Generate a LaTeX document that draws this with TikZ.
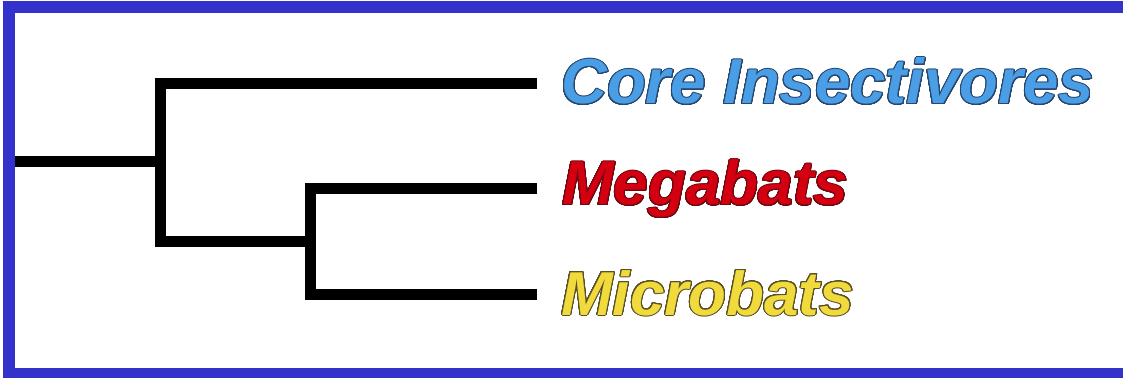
\documentclass[tikz,border=0pt]{standalone}
\usepackage{fontspec}
\setmainfont{Liberation Sans}
\usepackage{contour}
\contourlength{1.0pt}
\contournumber{32}

\definecolor{framebl}{RGB}{51,51,204}
\definecolor{corefill}{RGB}{74,158,230}
\definecolor{coreedge}{RGB}{40,70,110}
\definecolor{megafill}{RGB}{212,0,18}
\definecolor{megaedge}{RGB}{110,10,15}
\definecolor{microfill}{RGB}{240,218,60}
\definecolor{microedge}{RGB}{90,80,40}

\tikzset{
  branch/.style={line width=11pt, black, line join=miter, line cap=butt},
  taxon/.style={anchor=base west, inner sep=0pt, font=\fontsize{62}{62}\selectfont\bfseries\itshape},
}

\begin{document}
\begin{tikzpicture}[x=1pt, y=-1pt]
  \useasboundingbox (0,0) rectangle (1123,379);
  \begin{scope}
    \clip (0,0) rectangle (1123,379);
    % blue frame, open on the right
    \fill[framebl] (3,1) rectangle (1140,378);
    \fill[white] (15,13) rectangle (1140,368);
  \end{scope}

  % taxa
  \node[taxon, font=\fontsize{63.5}{63.5}\selectfont\bfseries\itshape] (core) at (561,104) {\color{corefill}\contour{coreedge}{Core Insectivores}};
  \node[taxon] (mega)  at (562,205) {\color{megafill}\contour{megaedge}{Megabats}};
  \node[taxon] (micro) at (561,315) {\color{microfill}\contour{microedge}{Microbats}};

  % branch tips and internal nodes
  \coordinate (tipcore)  at (537,83.5);
  \coordinate (tipmega)  at (537,189);
  \coordinate (tipmicro) at (537,294.5);
  \coordinate (rootend)  at (15,162);
  \coordinate (n1) at (160,162);
  \coordinate (n2) at (310,241.5);

  % tree
  \draw[branch] (rootend) -- (n1);
  \draw[branch] (tipcore) -| (n1 |- n2) -- (n2);
  \draw[branch] (tipmega) -| (n2 |- tipmicro) -- (tipmicro);
\end{tikzpicture}
\end{document}
